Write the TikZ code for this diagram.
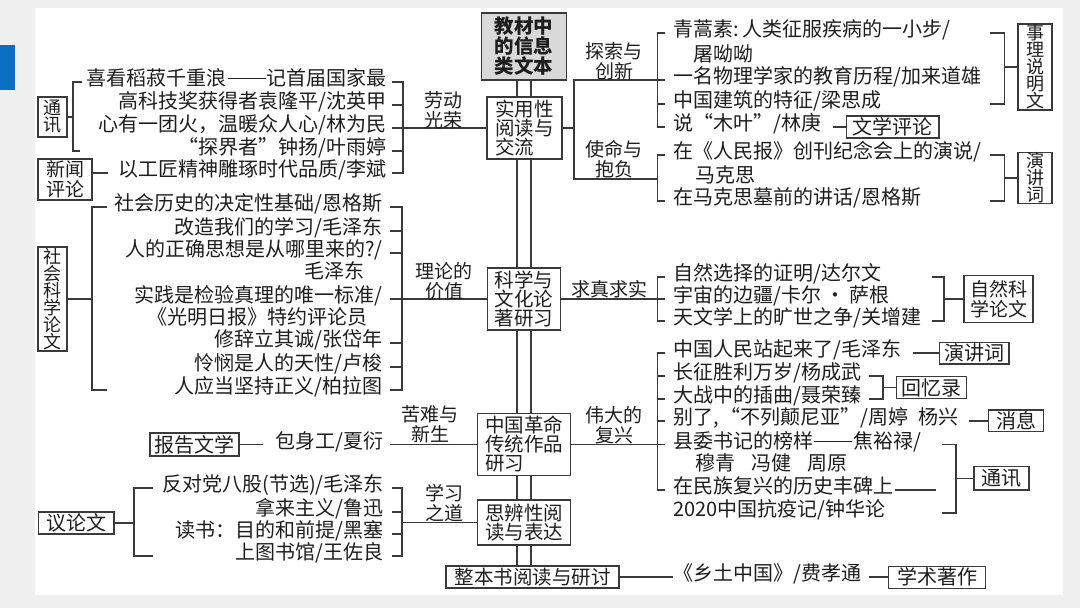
\documentclass[tikz,border=0pt]{standalone}
\usepackage{fontspec}
\setmainfont{Noto Sans CJK SC}
\usetikzlibrary{calc}
\definecolor{lc}{HTML}{3A3A3A}
\definecolor{tc}{HTML}{1E1E1E}
\definecolor{bgc}{HTML}{EFEFEF}
\definecolor{blu}{HTML}{0B6DC4}
\definecolor{topf}{HTML}{D9D9D9}
\newcommand\fitm{\fontsize{20pt}{23pt}\selectfont}
\newcommand\fcen{\fontsize{19.5pt}{19pt}\selectfont}
\newcommand\fvert{\fontsize{18pt}{17pt}\selectfont}
\newcommand\fsq{\fontsize{19pt}{20pt}\selectfont}
\newcommand\ftag{\fontsize{19pt}{20pt}\selectfont}
\newcommand\ddash{\hspace{0.05em}\raisebox{0.33em}{\rule{1.9em}{0.06em}}\hspace{0.05em}}
\tikzset{
  ln/.style={draw=lc, line width=1.1pt},
  itm/.style={inner sep=0pt, text=tc, font=\fitm, text height=0.88em, text depth=0.12em},
  wl/.style={itm, anchor=west},
  wr/.style={itm, anchor=east},
  lab/.style={draw=lc, line width=1.1pt, fill=white, text=tc, inner sep=0pt, font=\fitm, align=center},
  vlab/.style={lab, font=\fvert},
  sqlab/.style={lab, font=\fsq},
  cen/.style={draw=lc, line width=1.3pt, fill=white, text=tc, inner sep=0pt, font=\fcen, align=left},
  tag/.style={inner sep=0pt, text=tc, font=\ftag, align=center},
}
\begin{document}
\begin{tikzpicture}[x=1pt,y=-1pt]
\useasboundingbox (0,0) rectangle (1080,608);
% background
\fill[bgc] (0,0) rectangle (1080,608);
\fill[white] (35,8) rectangle (1063,595);
\fill[blu] (0,45) rectangle (15,90);

% ---------- centre column ----------
\node[cen, fill=topf, font=\fcen\bfseries, minimum width=85, minimum height=67] (top) at (524.2,46.5) {教材中\\[1pt]的信息\\[1pt]类文本};
\node[cen, minimum width=75, minimum height=62] (sy) at (524.5,128) {实用性\\阅读与\\交流};
\node[cen, minimum width=73, minimum height=62] (kx) at (524.2,299) {科学与\\文化论\\著研习};
\node[cen, minimum width=93, minimum height=62] (zg) at (524.2,444.5) {中国革命\\传统作品\\研习};
\node[cen, minimum width=93, minimum height=45] (sb) at (524.2,522.5) {思辨性阅\\读与表达};
\node[cen, align=center, minimum width=173, minimum height=22] (zb) at (532.5,577) {整本书阅读与研讨};
\coordinate (c1) at (517,0);
\coordinate (c2) at (531,0);
\foreach \a/\b in {top/sy,sy/kx,kx/zg,zg/sb,sb/zb}{
  \draw[ln, line width=1.2pt] (\a.south -| c1) -- (\b.north -| c1);
  \draw[ln, line width=1.2pt] (\a.south -| c2) -- (\b.north -| c2);
}

% ---------- left group 1 ----------
\node[wr] (a1) at (387,82) {喜看稻菽千重浪\ddash 记首届国家最};
\node[wr] (a2) at (387,105) {高科技奖获得者袁隆平/沈英甲};
\node[wr] (a3) at (387,128) {心有一团火，温暖众人心/林为民};
\node[wr] (a4) at (387,151) {“探界者”钟扬/叶雨婷};
\node[wr] (a5) at (387,173) {以工匠精神雕琢时代品质/李斌};
\node[vlab, minimum width=29, minimum height=40] (tx1) at (52.5,117) {通\\讯};
\node[sqlab, minimum width=54, minimum height=41] (xw) at (65,179.5) {新闻\\评论};
\coordinate (b1l) at (73,0);
\coordinate (b1r) at (403,0);
\draw[ln] (tx1.east) -- (tx1.east -| b1l);
\draw[ln] ($(b1l |- a1.west)+(9,0)$) -- (b1l |- a1.west) -- (b1l |- a4.west) -- ++(7,0);
\draw[ln] (xw.east |- a5.west) -- ++(15,0);
\draw[ln] ([xshift=5]a1.east) -- (a1.east -| b1r) -- (a5.east -| b1r) -- ([xshift=5]a5.east);
\foreach \n in {a2,a4} \draw[ln] ([xshift=5]\n.east) -- (\n.east -| b1r);
\draw[ln] ([xshift=5]a3.east) -- (a3.east -| sy.west);
\node[tag] (t1) at (443,110) {劳动\\光荣};

% ---------- left group 2 ----------
\node[wr] (s1) at (383,207) {社会历史的决定性基础/恩格斯};
\node[wr] (s2) at (383,231) {改造我们的学习/毛泽东};
\node[wr] (s3) at (383,253) {人的正确思想是从哪里来的?/};
\node[wr] (s3b) at (365,275) {毛泽东};
\node[wr] (s4) at (383,299) {实践是检验真理的唯一标准/};
\node[wr] (s4b) at (368,321) {《光明日报》特约评论员};
\node[wr] (s5) at (383,343) {修辞立其诚/张岱年};
\node[wr] (s6) at (383,367) {怜悯是人的天性/卢梭};
\node[wr] (s7) at (383,390) {人应当坚持正义/柏拉图};
\node[vlab, minimum width=29, minimum height=104] (sk) at (52.5,299) {社\\会\\科\\学\\论\\文};
\coordinate (b2l) at (92,0);
\coordinate (b2r) at (402,0);
\draw[ln] (sk.east) -- (sk.east -| b2l);
\draw[ln] ($(b2l |- s1.west)+(15,0)$) -- (b2l |- s1.west) -- (b2l |- s7.west) -- ++(15,0);
\draw[ln] ([xshift=7]s1.east) -- (s1.east -| b2r) -- (s7.east -| b2r) -- ([xshift=7]s7.east);
\foreach \n in {s2,s3,s5,s6} \draw[ln] ([xshift=7]\n.east) -- (\n.east -| b2r);
\draw[ln] ([xshift=7]s4.east) -- (s4.east -| kx.west);
\node[tag] (t2) at (444,281) {理论的\\价值};

% ---------- left group 3 ----------
\node[lab, minimum width=89, minimum height=23] (bg) at (194.5,444.5) {报告文学};
\node[wl] (bs) at (275,444.5) {包身工/夏衍};
\draw[ln] (bg.east) -- ++(23,0);
\draw[ln] ([xshift=7]bs.east) -- (bs.east -| zg.west);
\node[tag] (t3) at (430,424) {苦难与\\新生};

% ---------- left group 4 ----------
\node[wr] (y1) at (384,488) {反对党八股(节选)/毛泽东};
\node[wr] (y2) at (384,512) {拿来主义/鲁迅};
\node[wr] (y3) at (384,534) {读书：目的和前提/黑塞};
\node[wr] (y4) at (384,556) {上图书馆/王佐良};
\node[lab, minimum width=75.4, minimum height=22] (yl) at (76.3,523) {议论文};
\coordinate (b4l) at (134,0);
\coordinate (b4r) at (402,0);
\draw[ln] (yl.east) -- (yl.east -| b4l);
\draw[ln] ($(b4l |- y1.west)+(19,0)$) -- (b4l |- y1.west) -- (b4l |- y4.west) -- ++(19,0);
\draw[ln] ([xshift=8]y1.east) -- (y1.east -| b4r) -- (y4.east -| b4r) -- ([xshift=8]y4.east);
\foreach \n in {y2,y3} \draw[ln] ([xshift=8]\n.east) -- (\n.east -| b4r);
\draw[ln] (b4r |- sb.west) -- (sb.west);
\node[tag] (t4) at (444,503) {学习\\之道};

% ---------- right group A ----------
\coordinate (ra) at (574,0);
\coordinate (rb) at (657.6,0);
\coordinate (rc) at (1004.7,0);
\node[wl] (r1) at (673,33) {青蒿素:\,人类征服疾病的一小步/};
\node[wl] (r1b) at (693,58) {屠呦呦};
\node[wl] (r2) at (673,80) {一名物理学家的教育历程/加来道雄};
\node[wl] (r3) at (673,104) {中国建筑的特征/梁思成};
\node[wl] (r4) at (673,127) {说“木叶”/林庚};
\node[wl] (m1) at (673,155) {在《人民报》创刊纪念会上的演说/};
\node[wl] (m1b) at (695,179) {马克思};
\node[wl] (m2) at (673,201) {在马克思墓前的讲话/恩格斯};
\draw[ln] (sy.east) -- (sy.east -| ra);
\draw[ln] ([xshift=-8]r2.west) -- (ra |- r2.west) -- (ra |- m1b.west) -- (rb |- m1b.west);
\draw[ln] ([xshift=-8]r1.west) -- (rb |- r1.west) -- (rb |- r4.west) -- ([xshift=-8]r4.west);
\draw[ln] ([xshift=-8]r3.west) -- (rb |- r3.west);
\draw[ln] ([xshift=-8]m1.west) -- (rb |- m1.west) -- (rb |- m2.west) -- ([xshift=-8]m2.west);
\node[tag] (t5) at (614,61) {探索与\\创新};
\node[tag] (t6) at (614,159) {使命与\\抱负};
\node[vlab, minimum width=34, minimum height=86] (sl) at (1035,67) {事\\理\\说\\明\\文};
\draw[ln] ($(rc |- r1.east)+(-15,0)$) -- (rc |- r1.east) -- (rc |- r3.east) -- ++(-15,0);
\draw[ln] (sl.west -| rc) -- (sl.west);
\node[lab, minimum width=92.4, minimum height=22] (wx) at (892.8,127) {文学评论};
\draw[ln] ([xshift=12]r4.east) -- (r4.east -| wx.west);
\node[vlab, minimum width=34, minimum height=51] (yj1) at (1035,178) {演\\讲\\词};
\draw[ln] ($(rc |- m1.east)+(-15,0)$) -- (rc |- m1.east) -- (rc |- m2.east) -- ++(-15,0);
\draw[ln] (yj1.west -| rc) -- (yj1.west);

% ---------- right group B ----------
\node[wl] (n1) at (673,277) {自然选择的证明/达尔文};
\node[wl] (n2) at (673,299) {宇宙的边疆/卡尔\hspace{0.2em}·\hspace{0.2em}萨根};
\node[wl] (n3) at (673,321) {天文学上的旷世之争/关增建};
\draw[ln] (kx.east) -- ([xshift=-8]n2.west);
\draw[ln] ([xshift=-8]n1.west) -- (rb |- n1.west) -- (rb |- n3.west) -- ([xshift=-8]n3.west);
\coordinate (rf) at (944,0);
\draw[ln] ($(rf |- n1.east)+(-12,0)$) -- (rf |- n1.east) -- (rf |- n3.east) -- ++(-12,0);
\node[sqlab, minimum width=69, minimum height=46.6] (zr) at (998.5,299) {自然科\\学论文};
\draw[ln] (rf |- zr.west) -- (zr.west);
\node[tag] (t7) at (609,289) {求真求实};

% ---------- right group C ----------
\node[wl] (k1) at (673,353) {中国人民站起来了/毛泽东};
\node[wl] (k2) at (673,376) {长征胜利万岁/杨成武};
\node[wl] (k3) at (673,399) {大战中的插曲/聂荣臻};
\node[wl] (k4) at (673,421) {别了,\hspace{0.1em}“不列颠尼亚”/周婷\hspace{0.5em}杨兴};
\node[wl] (k5) at (673,444.5) {县委书记的榜样\ddash 焦裕禄/};
\node[wl] (k5b) at (695,467) {穆青\hspace{0.8em}冯健\hspace{0.8em}周原};
\node[wl] (k6) at (673,490) {在民族复兴的历史丰碑上};
\node[wl] (k7) at (673,513) {2020中国抗疫记/钟华论};
\draw[ln] (zg.east) -- ([xshift=-8]k5.west);
\draw[ln] ([xshift=-8]k1.west) -- (rb |- k1.west) -- (rb |- k6.west) -- ([xshift=-8]k6.west);
\foreach \n in {k2,k3,k4} \draw[ln] ([xshift=-8]\n.west) -- (rb |- \n.west);
\node[tag] (t8) at (614,425) {伟大的\\复兴};
\node[lab, minimum width=69.6, minimum height=21.3] (yj2) at (974.2,353.3) {演讲词};
\draw[ln] ([xshift=12]k1.east) -- (k1.east -| yj2.west);
\coordinate (rd) at (883,0);
\node[lab, minimum width=70, minimum height=21.6] (hy) at (931.9,387.5) {回忆录};
\draw[ln] ($(rd |- k2.east)+(-14,0)$) -- (rd |- k2.east) -- (rd |- k3.east) -- ++(-14,0);
\draw[ln] (rd |- hy.west) -- (hy.west);
\node[lab, minimum width=55, minimum height=21.7] (xx) at (1016.4,420.8) {消息};
\draw[ln] ([xshift=10]k4.east) -- (k4.east -| xx.west);
\coordinate (re) at (956,0);
\node[lab, minimum width=55, minimum height=23.3] (tx2) at (1001.5,478.3) {通讯};
\draw[ln] ($(re |- k5.east)+(-14,0)$) -- (re |- k5.east) -- (re |- k7.east) -- ++(-14,0);
\draw[ln] (re |- tx2.west) -- (tx2.west);
\draw[ln] ([xshift=2]k6.east) -- ++(41,0);

% ---------- bottom ----------
\node[wl] (xt) at (673,577) {《乡土中国》/费孝通};
\draw[ln] (zb.east) -- (xt.west);
\node[lab, minimum width=97, minimum height=22.3] (xs) at (937.2,577.2) {学术著作};
\draw[ln] ([xshift=8]xt.east) -- (xt.east -| xs.west);
\end{tikzpicture}
\end{document}
